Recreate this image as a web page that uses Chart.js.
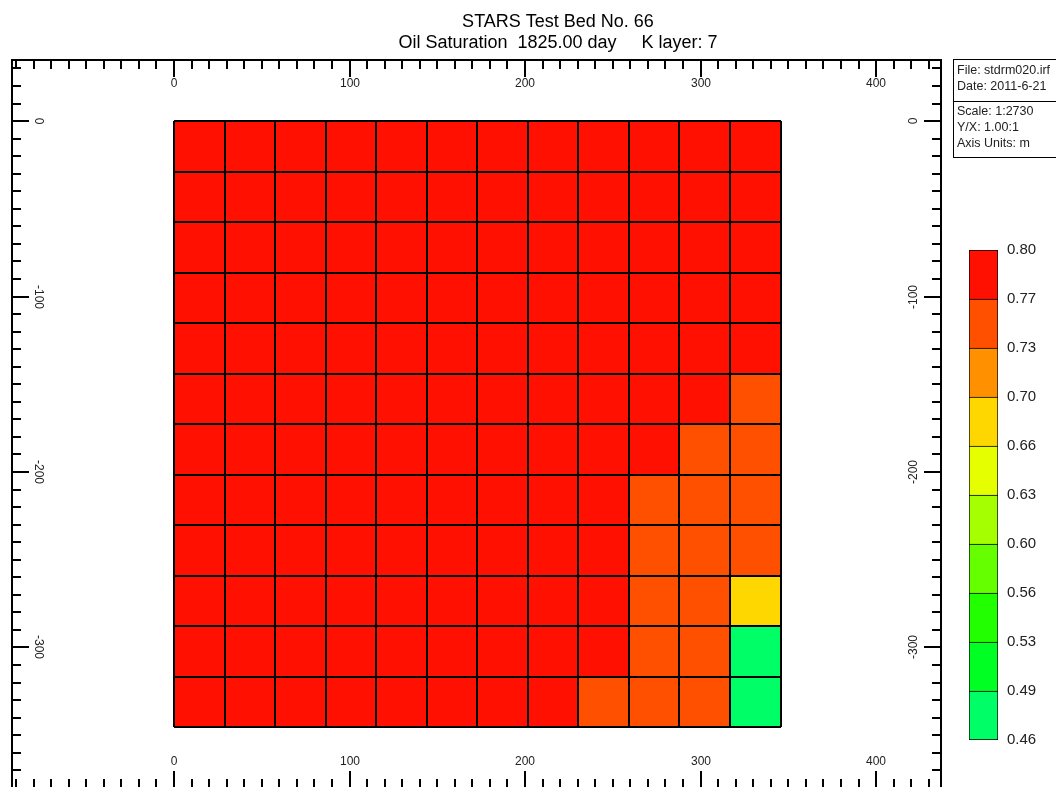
<!DOCTYPE html>
<html>
<head>
<meta charset="utf-8">
<script src="https://cdn.jsdelivr.net/npm/chart.js@4.4.0/dist/chart.umd.min.js"></script>
<style>
  body { margin: 0; background: #fff; overflow: hidden; width: 1056px; height: 787px; position: relative; }
  #mapChart { position: absolute; left: 0; top: 0; }
  #barChart { position: absolute; left: 960px; top: 232px; }
</style>
</head>
<body>
<canvas id="mapChart" width="1056" height="800"></canvas>
<canvas id="barChart" width="96" height="526"></canvas>
<script>
// texts
const titleLines = ['STARS Test Bed No. 66', 'Oil Saturation  1825.00 day     K layer: 7'];
const infoTop = ['File: stdrm020.irf', 'Date: 2011-6-21'];
const infoBottom = ['Scale: 1:2730', 'Y/X: 1.00:1', 'Axis Units: m'];

// grid block edges (m)
const xEdges = [0, 28.8, 57.6, 86.4, 115.2, 144, 172.8, 201.6, 230.4, 259.2, 288, 316.8, 345.6];
const yEdges = [0, -28.8, -57.6, -86.4, -115.2, -144, -172.8, -201.6, -230.4, -259.2, -288, -316.8, -345.6];

// labelled ticks
const xMajor = [0, 100, 200, 300, 400];
const yMajor = [0, -100, -200, -300];

// colour scale
const levels = [0.46, 0.494, 0.528, 0.562, 0.596, 0.63, 0.664, 0.698, 0.732, 0.766, 0.80];
const levelColors = ['#00ff66', '#00ff22', '#22ff00', '#66ff00', '#a5ff00', '#e5ff00', '#ffd700', '#ff9000', '#ff5000', '#ff1000'];

// oil saturation, rows top -> bottom, columns left -> right
const soil = [
  [0.79, 0.79, 0.79, 0.79, 0.79, 0.79, 0.79, 0.79, 0.79, 0.79, 0.79, 0.79],
  [0.79, 0.79, 0.79, 0.79, 0.79, 0.79, 0.79, 0.79, 0.79, 0.79, 0.79, 0.79],
  [0.79, 0.79, 0.79, 0.79, 0.79, 0.79, 0.79, 0.79, 0.79, 0.79, 0.79, 0.79],
  [0.79, 0.79, 0.79, 0.79, 0.79, 0.79, 0.79, 0.79, 0.79, 0.79, 0.79, 0.79],
  [0.79, 0.79, 0.79, 0.79, 0.79, 0.79, 0.79, 0.79, 0.79, 0.79, 0.79, 0.78],
  [0.79, 0.79, 0.79, 0.79, 0.79, 0.79, 0.79, 0.79, 0.79, 0.79, 0.79, 0.75],
  [0.79, 0.79, 0.79, 0.79, 0.79, 0.79, 0.79, 0.79, 0.79, 0.78, 0.75, 0.75],
  [0.79, 0.79, 0.79, 0.79, 0.79, 0.79, 0.79, 0.79, 0.79, 0.75, 0.75, 0.75],
  [0.79, 0.79, 0.79, 0.79, 0.79, 0.79, 0.79, 0.79, 0.79, 0.75, 0.75, 0.75],
  [0.79, 0.79, 0.79, 0.79, 0.79, 0.79, 0.79, 0.79, 0.79, 0.75, 0.75, 0.68],
  [0.79, 0.79, 0.79, 0.79, 0.79, 0.79, 0.79, 0.79, 0.79, 0.75, 0.75, 0.47],
  [0.79, 0.79, 0.79, 0.79, 0.79, 0.79, 0.79, 0.79, 0.75, 0.75, 0.75, 0.47]
];

const FONT = "'Liberation Sans', Arial, sans-serif";
const INK = '#222';

function colorFor(v) {
  for (let i = 0; i < levelColors.length; i++) {
    if (v < levels[i + 1]) return levelColors[i];
  }
  return levelColors[levelColors.length - 1];
}

const mapPlugin = {
  id: 'mapDraw',
  afterDraw(chart) {
    const { ctx, chartArea: a, scales: { x, y } } = chart;
    const px = v => Math.round(x.getPixelForValue(v));
    const py = v => Math.round(y.getPixelForValue(v));
    ctx.save();

    // blocks
    soil.forEach((row, r) => row.forEach((v, c) => {
      const x0 = px(xEdges[c]), x1 = px(xEdges[c + 1]);
      const y0 = py(yEdges[r]), y1 = py(yEdges[r + 1]);
      ctx.fillStyle = colorFor(v);
      ctx.fillRect(x0, y0, x1 - x0, y1 - y0);
    }));

    // block outlines
    ctx.strokeStyle = '#000';
    ctx.lineWidth = 2;
    ctx.beginPath();
    const gTop = py(yEdges[0]), gBot = py(yEdges[yEdges.length - 1]);
    const gLeft = px(xEdges[0]), gRight = px(xEdges[xEdges.length - 1]);
    xEdges.forEach(e => { ctx.moveTo(px(e), gTop); ctx.lineTo(px(e), gBot); });
    yEdges.forEach(e => { ctx.moveTo(gLeft, py(e)); ctx.lineTo(gRight, py(e)); });
    ctx.stroke();

    // frame
    ctx.strokeRect(a.left, a.top, a.right - a.left, a.bottom - a.top);

    // inward ticks
    ctx.beginPath();
    for (let v = Math.ceil(x.min / 10) * 10; v <= x.max; v += 10) {
      const p = px(v), len = v % 100 === 0 ? 17 : 9;
      ctx.moveTo(p, a.top); ctx.lineTo(p, a.top + len);
      ctx.moveTo(p, a.bottom); ctx.lineTo(p, a.bottom - len);
    }
    for (let v = Math.ceil(y.min / 10) * 10; v <= y.max; v += 10) {
      const p = py(v), len = v % 100 === 0 ? 17 : 9;
      ctx.moveTo(a.left, p); ctx.lineTo(a.left + len, p);
      ctx.moveTo(a.right, p); ctx.lineTo(a.right - len, p);
    }
    ctx.stroke();

    // tick labels
    ctx.fillStyle = INK;
    ctx.font = '12px ' + FONT;
    ctx.textAlign = 'center';
    ctx.textBaseline = 'middle';
    xMajor.forEach(v => {
      ctx.fillText(String(v), px(v), a.top + 24);
      ctx.fillText(String(v), px(v), a.bottom - 26);
    });
    yMajor.forEach(v => {
      ctx.save();
      ctx.translate(a.left + 26, py(v));
      ctx.rotate(Math.PI / 2);
      ctx.fillText(String(v), 0, 0);
      ctx.restore();
      ctx.save();
      ctx.translate(a.right - 27, py(v));
      ctx.rotate(-Math.PI / 2);
      ctx.fillText(String(v), 0, 0);
      ctx.restore();
    });

    // title
    ctx.font = '18px ' + FONT;
    ctx.fillStyle = '#000';
    ctx.textBaseline = 'alphabetic';
    ctx.fillText(titleLines[0], 558, 27);
    ctx.fillText(titleLines[1], 558, 48);

    // info box
    ctx.lineWidth = 1;
    ctx.strokeRect(953.5, 59.5, 120, 98);
    ctx.beginPath();
    ctx.moveTo(953.5, 101.5); ctx.lineTo(1073, 101.5);
    ctx.stroke();
    ctx.font = '12.5px ' + FONT;
    ctx.textAlign = 'left';
    ctx.textBaseline = 'middle';
    ctx.fillStyle = INK;
    infoTop.forEach((t, i) => ctx.fillText(t, 957, 71 + i * 16));
    infoBottom.forEach((t, i) => ctx.fillText(t, 957, 112 + i * 16));

    ctx.restore();
  }
};

new Chart(document.getElementById('mapChart'), {
  type: 'scatter',
  data: { datasets: [] },
  options: {
    responsive: false,
    animation: false,
    layout: { padding: { left: 12, top: 60, right: 115, bottom: 12 } },
    plugins: { legend: { display: false }, tooltip: { enabled: false } },
    scales: {
      x: { type: 'linear', min: -92.3, max: 437.0, display: false },
      y: { type: 'linear', min: -380.1, max: 34.8, display: false }
    }
  },
  plugins: [mapPlugin]
});

// colour bar
new Chart(document.getElementById('barChart'), {
  type: 'bar',
  data: {
    labels: [''],
    datasets: levelColors.map((col, i) => ({
      data: [[levels[i], levels[i + 1]]],
      backgroundColor: col,
      borderColor: '#000',
      borderWidth: i === 0 ? 1 : { left: 1, right: 1, top: 1, bottom: 0 },
      borderSkipped: false,
      grouped: false,
      barPercentage: 1,
      categoryPercentage: 1
    }))
  },
  options: {
    responsive: false,
    animation: false,
    layout: { padding: { left: 9, top: 3, right: 0, bottom: 4 } },
    plugins: { legend: { display: false }, tooltip: { enabled: false } },
    scales: {
      x: { display: false },
      y: {
        position: 'right',
        min: levels[0],
        max: levels[levels.length - 1],
        border: { display: false },
        grid: { display: false, drawTicks: false },
        afterBuildTicks: s => { s.ticks = levels.map(v => ({ value: v })); },
        afterFit: s => { s.width = 58; },
        ticks: {
          autoSkip: false,
          padding: 9,
          color: INK,
          font: { family: FONT, size: 15 },
          callback: v => Number(v).toFixed(2)
        }
      }
    }
  }
});
</script>
</body>
</html>
